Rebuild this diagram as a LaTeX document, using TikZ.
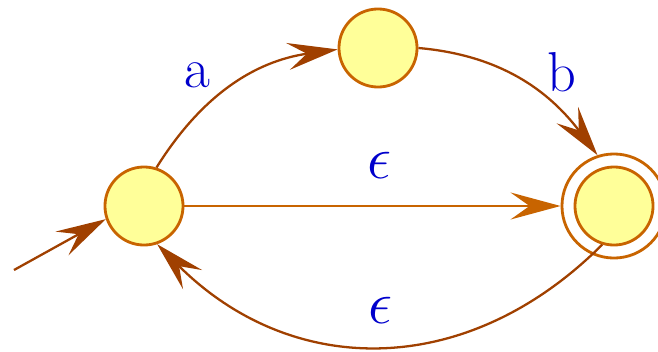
\documentclass[tikz,border=0pt]{standalone}
\usepackage{tikz}
\usetikzlibrary{arrows.meta,positioning}
\definecolor{stFill}{HTML}{FFFF99}
\definecolor{stLine}{HTML}{C86400}
\definecolor{edDark}{HTML}{A04000}
\definecolor{lbBlue}{HTML}{0000CC}
\tikzset{
  state/.style={circle, draw=stLine, fill=stFill, line width=0.8pt, minimum size=0.78cm, inner sep=0pt},
  ring/.style={circle, draw=stLine, line width=0.8pt, minimum size=1.04cm, inner sep=0pt},
  edge/.style={draw=edDark, line width=0.65pt, -{Stealth[length=5mm, width=2.7mm, inset=1.9mm]}},
  lab/.style={text=lbBlue, font=\fontsize{16}{19}\selectfont, inner sep=0pt},
}
\begin{document}
\begin{tikzpicture}[x=0.01cm, y=0.01cm]
\useasboundingbox (0,0) rectangle (658,351);
% --- states
\node[state] (q0) at (144,145) {};
\node[state] (q1) at (378,303) {};
\node[state] (q2) at (614,145) {};
\node[ring] (q2r) at (614,145) {};
\coordinate (start) at (14,81);
% --- transitions
\draw[edge] (start) -- (q0.199);
\draw[edge] (q0.72) to[out=58, in=188] (q1.182);
\draw[edge] (q1.0) to[out=-5, in=127] (q2r.108);
\draw[edge, draw=stLine] (q0) -- (q2r);
\draw[edge] (q2.253) to[out=225, in=-45, looseness=1.1] (q0.-71);
% --- labels
\node[lab] (la) at (197,276) {a};
\node[lab] (lb) at (562,279) {b};
\node[lab] (le1) at (380,186) {$\epsilon$};
\node[lab] (le2) at (381,41) {$\epsilon$};
\end{tikzpicture}
\end{document}
